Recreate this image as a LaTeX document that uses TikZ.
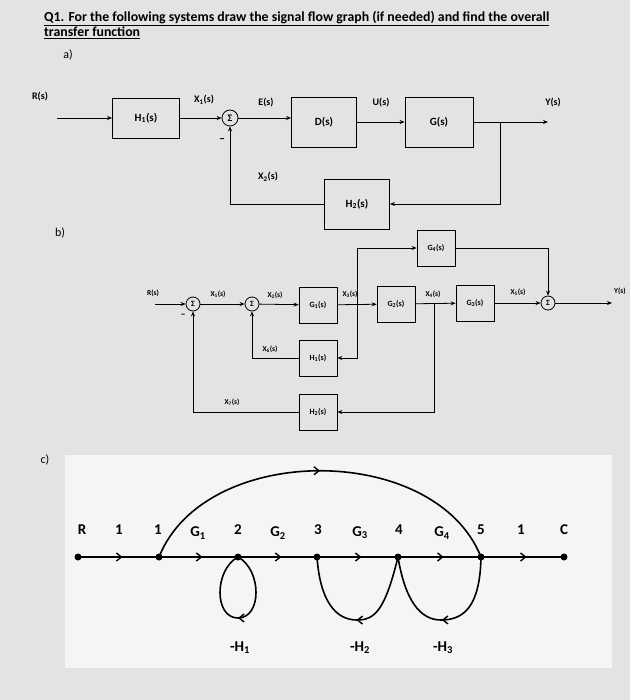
\documentclass[tikz,border=0pt]{standalone}
\usepackage{fontspec}
\setmainfont{Carlito}
\usetikzlibrary{arrows.meta,decorations.markings}
\newcommand{\sbs}[1]{\textsubscript{#1}}
\begin{document}
\begin{tikzpicture}[x=1pt,y=-1pt,
  blk/.style={draw,line width=0.8pt,minimum width=#1,minimum height=38pt,inner sep=0pt,font=\bfseries\fontsize{11}{12}\selectfont},
  blkb/.style={draw,line width=0.7pt,minimum width=38pt,minimum height=36pt,inner sep=0pt,font=\bfseries\fontsize{8}{9}\selectfont},
  sumn/.style={draw,circle,line width=0.8pt,minimum size=#1,inner sep=0pt},
  lab/.style={font=\bfseries\fontsize{10}{11}\selectfont,inner sep=1pt},
  labb/.style={font=\bfseries\fontsize{7.5}{8}\selectfont,inner sep=1pt},
  sig/.style={line width=0.8pt,-{Stealth[length=5pt,width=4pt]}},
  fl/.style={line width=1.6pt},
  mid/.style={postaction={decorate},decoration={markings,mark=at position #1 with {\arrow{Straight Barb[length=5pt,width=8pt,line width=1.4pt]}}}},
  dot/.style={circle,fill,inner sep=0pt,minimum size=7pt},
  cl/.style={font=\bfseries\fontsize{15}{16}\selectfont,inner sep=1pt},
]
\fill[gray!22] (0,0) rectangle (630,700);
\useasboundingbox (0,0) rectangle (630,700);
\fill[gray!8] (65,455) rectangle (612,668);
% title
\node[anchor=west,font=\bfseries\fontsize{13.8}{14}\selectfont,align=left,inner sep=0pt] (title) at (44,25)
 {\underline{Q1. For the following systems draw the signal flow graph (if needed) and find the overall}\\\underline{transfer function}};
\node[lab,font=\fontsize{12}{12}\selectfont] (pa) at (68,55) {a)};
\node[lab,font=\fontsize{12}{12}\selectfont] (pb) at (60,233) {b)};
\node[lab,font=\fontsize{12}{12}\selectfont] (pc) at (45,460) {c)};
% ---------- part a
\coordinate (ain) at (57,118);
\node[blk=67pt,minimum height=40pt] (H1) at (146,118) {H\sbs{1}(s)};
\node[sumn=16pt,font=\bfseries\fontsize{10}{10}\selectfont] (sa) at (230,118) {Σ};
\node[blk=65pt,minimum height=50pt] (D) at (324,122) {D(s)};
\node[blk=68pt,minimum height=50pt] (G) at (439,122) {G(s)};
\node[blk=65pt,minimum height=50pt] (H2) at (357,204) {H\sbs{2}(s)};
\coordinate (ay) at (500,122);
\coordinate (aout) at (548,122);
\draw[sig] (ain) -- (H1);
\draw[sig] (H1) -- (sa);
\draw[sig] (sa) -- (sa -| D.west);
\draw[sig] (D) -- (G);
\draw[sig] (G.east) -- (aout);
\draw[sig] (ay) |- (H2.east);
\draw[sig] (H2.west) -| (sa.south);
\node[lab] (lR) at (40,97) {R(s)};
\node[lab] (lX1) at (204,100) {X\sbs{1}(s)};
\node[lab] (lE) at (266,103) {E(s)};
\node[lab] (lU) at (381,103) {U(s)};
\node[lab] (lY) at (553,103) {Y(s)};
\node[lab] (lX2) at (268,177) {X\sbs{2}(s)};
\node[lab,font=\bfseries\fontsize{12}{12}\selectfont] (lm) at (222,141) {--};
% ---------- part b
\coordinate (bin) at (155,304);
\node[sumn=14pt,font=\bfseries\fontsize{8}{8}\selectfont] (s1) at (193,304) {Σ};
\node[sumn=14pt,font=\bfseries\fontsize{8}{8}\selectfont] (s2) at (252,304) {Σ};
\node[blkb] (G1) at (318,305) {G\sbs{1}(s)};
\node[blkb] (G2) at (396,304) {G\sbs{2}(s)};
\node[blkb] (G3) at (475,303) {G\sbs{3}(s)};
\node[blkb] (G4) at (436,248) {G\sbs{4}(s)};
\node[blkb] (bH1) at (318,358) {H\sbs{1}(s)};
\node[blkb] (bH2) at (318,412) {H\sbs{2}(s)};
\node[sumn=14pt,font=\bfseries\fontsize{8}{8}\selectfont] (s3) at (548,303) {Σ};
\coordinate (t3) at (357,304);
\coordinate (t4) at (434,304);
\coordinate (bout) at (612,303);
\draw[sig] (bin) -- (s1);
\draw[sig] (s1) -- (s2);
\draw[sig] (s2) -- (G1);
\draw[sig] (G1) -- (G2);
\draw[sig] (G2) -- (G3);
\draw[sig] (G3) -- (s3);
\draw[sig] (s3) -- (bout);
\draw[sig] (t3) |- (G4.west);
\draw[sig] (G4.east) -| (s3.north);
\draw[sig] (t3) |- (bH1.east);
\draw[sig] (bH1.west) -| (s2.south);
\draw[sig] (t4) |- (bH2.east);
\draw[sig] (bH2.west) -| (s1.south);
\node[labb] (bR) at (153,293) {R(s)};
\node[labb] (bX1) at (218,294) {X\sbs{1}(s)};
\node[labb] (bX2) at (275,295) {X\sbs{2}(s)};
\node[labb] (bX3) at (350,294) {X\sbs{3}(s)};
\node[labb] (bX4) at (433,294) {X\sbs{4}(s)};
\node[labb] (bX5) at (518,292) {X\sbs{5}(s)};
\node[labb] (bY) at (620,291) {Y(s)};
\node[labb] (bX6) at (270,349) {X\sbs{6}(s)};
\node[labb] (bX7) at (232,402) {X\sbs{7}(s)};
\node[lab,font=\bfseries\fontsize{10}{10}\selectfont] (bm) at (183,316) {--};
% ---------- part c
\node[dot] (nR) at (78,557) {};
\node[dot] (n1) at (159,557) {};
\node[dot] (n2) at (238,557) {};
\node[dot] (n3) at (317,557) {};
\node[dot] (n4) at (398,557) {};
\node[dot] (n5) at (481,557) {};
\node[dot] (nC) at (564,557) {};
\draw[fl,mid=0.55] (nR.center) -- (n1.center);
\draw[fl,mid=0.55] (n1.center) -- (n2.center);
\draw[fl,mid=0.55] (n2.center) -- (n3.center);
\draw[fl,mid=0.55] (n3.center) -- (n4.center);
\draw[fl,mid=0.55] (n4.center) -- (n5.center);
\draw[fl,mid=0.55] (n5.center) -- (nC.center);
\draw[fl,mid=0.5] (n1.center) .. controls (205,442) and (435,442) .. (n5.center);
\draw[fl,mid=0.5] (n2.center) .. controls (262,570) and (262,618) .. (238,618)
   .. controls (214,618) and (214,570) .. (n2.center);
\draw[fl,mid=0.5] (n4.center) .. controls (385,610) and (375,620) .. (357,620)
   .. controls (335,620) and (320,600) .. (n3.center);
\draw[fl,mid=0.5] (n5.center) .. controls (480,605) and (465,620) .. (441,620)
   .. controls (420,620) and (405,600) .. (n4.center);
\node[cl] (cR) at (82,530) {R};
\node[cl] (c1a) at (119,530) {1};
\node[cl] (c1b) at (158,530) {1};
\node[cl] (cG1) at (198,533) {G\sbs{1}};
\node[cl] (c2) at (238,530) {2};
\node[cl] (cG2) at (278,533) {G\sbs{2}};
\node[cl] (c3) at (318,530) {3};
\node[cl] (cG3) at (360,533) {G\sbs{3}};
\node[cl] (c4) at (399,530) {4};
\node[cl] (cG4) at (442,533) {G\sbs{4}};
\node[cl] (c5) at (481,530) {5};
\node[cl] (c1c) at (521,530) {1};
\node[cl] (cC) at (564,530) {C};
\node[cl] (cH1) at (240,648) {-H\sbs{1}};
\node[cl] (cH2) at (360,648) {-H\sbs{2}};
\node[cl] (cH3) at (443,648) {-H\sbs{3}};
\end{tikzpicture}
\end{document}
